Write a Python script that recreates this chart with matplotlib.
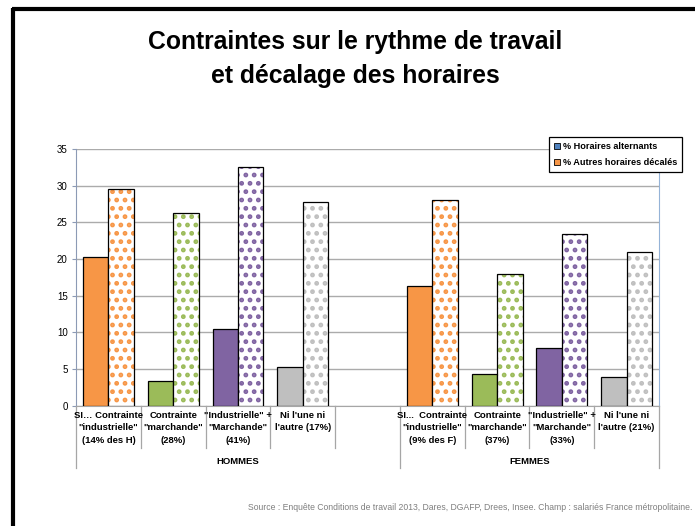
import numpy as np
import matplotlib.pyplot as plt
from matplotlib.patches import Patch
from matplotlib.lines import Line2D
import matplotlib.transforms as mtransforms

plt.rcParams['font.family'] = ['Liberation Sans', 'DejaVu Sans']
plt.rcParams['hatch.linewidth'] = 2.2

# data
labels_h = ['SI… Contrainte\n"industrielle"\n(14% des H)',
            'Contrainte\n"marchande"\n(28%)',
            '"Industrielle" +\n"Marchande"\n(41%)',
            "Ni l'une ni\nl'autre (17%)"]
labels_f = ['SI...  Contrainte\n"industrielle"\n(9% des F)',
            'Contrainte\n"marchande"\n(37%)',
            '"Industrielle" +\n"Marchande"\n(33%)',
            "Ni l'une ni\nl'autre (21%)"]
alternants_h = [20.2, 3.3, 10.5, 5.3]
decales_h = [29.5, 26.3, 32.6, 27.8]
alternants_f = [16.3, 4.3, 7.9, 3.9]
decales_f = [28.0, 17.9, 23.4, 21.0]
groups = ['HOMMES', 'FEMMES']
colors = ['#F79646', '#9BBB59', '#8064A2', '#BFBFBF']

fig = plt.figure(figsize=(6.95, 5.26), dpi=100)
ax = fig.add_axes([0.1094, 0.2288, 0.8388, 0.4881])

pos_h = np.arange(4)
pos_f = np.arange(5, 9)
w = 0.393

for pos, alt, dec in [(pos_h, alternants_h, decales_h), (pos_f, alternants_f, decales_f)]:
    ax.bar(pos - w / 2, alt, w, color=colors, edgecolor='black', linewidth=0.9, zorder=3)
    for x, v, c in zip(pos, dec, colors):
        ax.bar(x + w / 2, v, w, color='white', hatch='..', edgecolor=c, linewidth=0, zorder=3)
        ax.bar(x + w / 2, v, w, fill=False, edgecolor='black', linewidth=0.9, zorder=4)

ax.set_xlim(-0.5, 8.5)
ax.set_ylim(0, 35)
ax.set_yticks(range(0, 36, 5))
ax.tick_params(axis='y', labelsize=7, length=3, color='#8C9AB5', pad=3)
ax.set_xticks([])
ax.grid(axis='y', color='#ABABAB', linewidth=1, zorder=0)
ax.spines['top'].set_visible(False)
ax.spines['left'].set_color('#8C9AB5')
ax.spines['right'].set_color('#95B3D7')
ax.spines['bottom'].set_color('#A6A6A6')

# table-like category area below the axis
trans = mtransforms.blended_transform_factory(ax.transData, ax.transAxes)
for b in [0.5, 1.5, 2.5, 3.5, 5.5, 6.5, 7.5]:
    ax.add_line(Line2D([b, b], [0, -0.165], transform=trans, color='#A6A6A6', lw=0.9, clip_on=False))
for b in [-0.5, 4.5, 8.5]:
    ax.add_line(Line2D([b, b], [0, -0.243], transform=trans, color='#A6A6A6', lw=0.9, clip_on=False))
for pos, labs in [(pos_h, labels_h), (pos_f, labels_f)]:
    for x, lab in zip(pos, labs):
        ax.text(x, -0.022, lab, transform=trans, ha='center', va='top', fontsize=6.8,
                fontweight='bold', linespacing=1.45)
ax.text(2.0, -0.218, groups[0], transform=trans, ha='center', va='center', fontsize=6.8, fontweight='bold')
ax.text(6.5, -0.218, groups[1], transform=trans, ha='center', va='center', fontsize=6.8, fontweight='bold')

handles = [Patch(facecolor='#4F81BD', edgecolor='black', linewidth=0.6),
           Patch(facecolor='#F79646', edgecolor='black', linewidth=0.6)]
leg = fig.legend(handles, ['% Horaires alternants', '% Autres horaires décalés'],
                 loc='upper right', bbox_to_anchor=(682 / 695, 1 - 137 / 526),
                 prop={'size': 6.6, 'weight': 'bold'}, handlelength=0.7, handleheight=0.7,
                 handletextpad=0.3, borderpad=0.55, labelspacing=0.8, fancybox=False,
                 framealpha=1, edgecolor='black', borderaxespad=0)
leg.get_frame().set_linewidth(0.9)

fig.text(0.511, 1 - 42 / 526, 'Contraintes sur le rythme de travail', ha='center', va='center',
         fontsize=17.8, fontweight='bold')
fig.text(0.511, 1 - 76 / 526, 'et décalage des horaires', ha='center', va='center',
         fontsize=17.8, fontweight='bold')
fig.text(692 / 695, 1 - 507 / 526,
         'Source : Enquête Conditions de travail 2013, Dares, DGAFP, Drees, Insee. Champ : salariés France métropolitaine.',
         ha='right', va='center', fontsize=6.2, color='#7F7F7F',
         family=['Liberation Sans Narrow', 'Liberation Sans'])

# black frame around the slide
fig.add_artist(Line2D([12 / 695, 1], [1 - 9 / 526, 1 - 9 / 526], transform=fig.transFigure,
                      color='black', lw=3, solid_capstyle='butt'))
fig.add_artist(Line2D([12.5 / 695, 12.5 / 695], [0, 1 - 8 / 526], transform=fig.transFigure,
                      color='black', lw=3, solid_capstyle='butt'))

fig.savefig('out.png', dpi=100)
